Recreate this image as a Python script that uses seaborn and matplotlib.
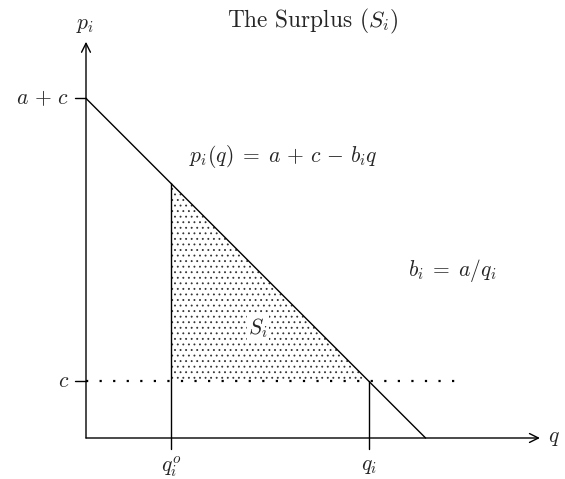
import matplotlib
matplotlib.use("Agg")
import matplotlib.pyplot as plt
import seaborn as sns
import numpy as np
import pandas as pd

sns.set_style("white")
plt.rcParams["mathtext.fontset"] = "cm"
plt.rcParams["font.family"] = ["cmr10", "DejaVu Serif"]
plt.rcParams["hatch.linewidth"] = 0.6

# model values (c = 1, a = 5, b_i = 1)
a = 5.0
c = 1.0
b_i = 1.0
q_i = a / b_i
q_o = 1.5
q_end = (a + c) / b_i

demand = pd.DataFrame({"q": [0.0, q_end], "p": [a + c, 0.0]})
surplus_q = [q_o, q_o, q_i]
surplus_p = [a + c - b_i * q_o, c, c]

x_max = 8.02
y_max = 7.0
c_line_end = 6.52
tick_len = 0.195

fig = plt.figure(figsize=(5.65, 4.79), dpi=100)
ax = fig.add_axes([0, 0, 1, 1])
s = 56.6
ax.set_xlim(-86 / s, (565 - 86) / s)
ax.set_ylim(-41 / s, 438 / s)
ax.axis("off")

# demand line
sns.lineplot(data=demand, x="q", y="p", color="black", lw=1.0, ax=ax)

# surplus area (stippled)
ax.fill(surplus_q, surplus_p, facecolor="none", edgecolor="#333333",
        hatch="...", lw=0)

# verticals
ax.plot([q_o, q_o], [-tick_len, a + c - b_i * q_o], color="black", lw=1.0)
ax.plot([q_i, q_i], [-tick_len, c], color="black", lw=1.0)

# price line c
ax.plot([0, c_line_end], [c, c], color="black", lw=1.6,
        linestyle=(0, (1, 5.1)), dash_capstyle="butt")

# ticks on y-axis
ax.plot([-tick_len, 0], [a + c, a + c], color="black", lw=1.0)
ax.plot([-tick_len, 0], [c, c], color="black", lw=1.0)

# axes with arrows
ax.annotate("", xy=(x_max, 0), xytext=(0, 0),
            arrowprops=dict(arrowstyle="->", lw=1.0, color="black",
                            shrinkA=0, shrinkB=0, mutation_scale=16))
ax.annotate("", xy=(0, y_max), xytext=(0, 0),
            arrowprops=dict(arrowstyle="->", lw=1.0, color="black",
                            shrinkA=0, shrinkB=0, mutation_scale=16))

fs = 15.5
ax.text((313 - 86) / s, (438 - 21) / s, r"The Surplus ($S_i$)",
        ha="center", va="center", fontsize=16.8)
ax.text(-0.02, (438 - 25) / s, r"$p_i$", ha="center", va="center", fontsize=fs)
ax.text(x_max + 0.15, 0, r"$q$", ha="left", va="center", fontsize=fs)
ax.text(-tick_len - 0.1, a + c, r"$a\,+\,c$", ha="right", va="center", fontsize=fs)
ax.text(-tick_len - 0.1, c, r"$c$", ha="right", va="center", fontsize=fs)
ax.text(q_o, -0.5, r"$q_i^o$", ha="center", va="center", fontsize=fs)
ax.text(q_i, -0.5, r"$q_i$", ha="center", va="center", fontsize=fs)
ax.text((189 - 86) / s, (438 - 157) / s,
        r"$p_i(q)\;=\;a\,+\,c\,-\,b_i q$",
        ha="left", va="center", fontsize=fs)
ax.text((408 - 86) / s, (438 - 270) / s, r"$b_i\;=\;a/q_i$",
        ha="left", va="center", fontsize=fs)
ax.text((258 - 86) / s, (438 - 328) / s, r"$S_i$",
        ha="center", va="center", fontsize=fs,
        bbox=dict(facecolor="white", edgecolor="none", pad=1.0))

fig.savefig("out.png", dpi=100)
